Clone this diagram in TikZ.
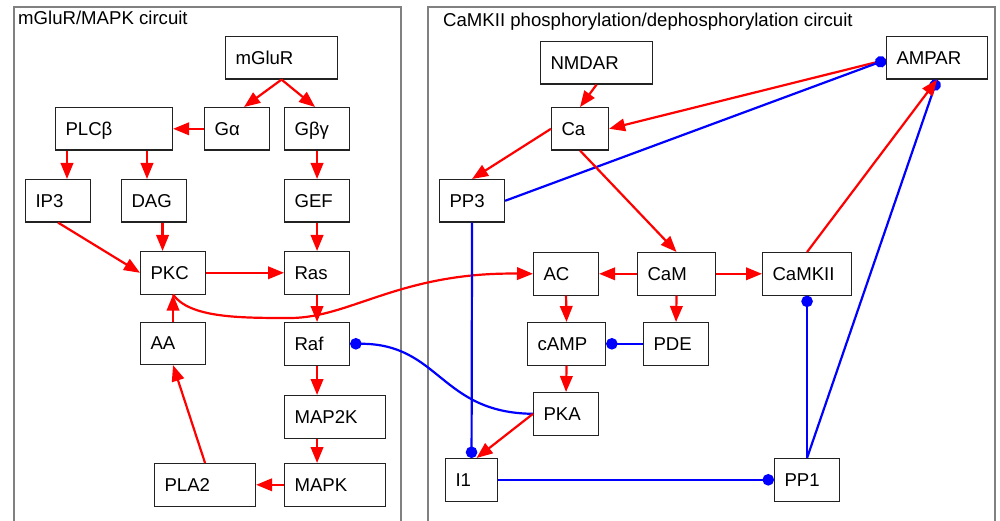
\documentclass[tikz,border=0pt]{standalone}
\usepackage{fontspec}
\setmainfont{Liberation Sans}
\usetikzlibrary{arrows.meta,calc}
\definecolor{framec}{HTML}{808080}
\definecolor{boxc}{HTML}{222222}
\newcommand\nodefont{\fontsize{18.6}{22}\selectfont}
\begin{document}
\begin{tikzpicture}[x=1pt,y=-1pt,
  box/.style={draw=boxc, line width=1.1pt, fill=white, anchor=north west,
    minimum height=42.5pt, inner xsep=10pt, inner ysep=0pt,
    text height=13.3pt, text depth=0pt, align=left, text width=#1, font=\nodefont},
  title/.style={anchor=base west, inner sep=0pt, font=\nodefont},
  framer/.style={draw=framec, line width=1.2pt},
  ra/.style={draw=red, line width=2.2pt, -{Triangle[length=16pt,width=12.5pt]}},
  bi/.style={draw=blue, line width=2.2pt, -{Circle[length=11.5pt]}}]
\useasboundingbox (0,0) rectangle (1000,521);
% panels
\draw[framer] (14,530) -- (14,7) -- (401,7) -- (401,530);
\draw[framer] (428,530) -- (428,7) -- (995,7) -- (995,530);
\node[title] (t1) at (18,25) {mGluR/MAPK circuit};
\node[title] (t2) at (443,27) {CaMKII phosphorylation/dephosphorylation circuit};
% left nodes
\node[box=92pt] (mGluR) at (225,36) {mGluR};
\node[box=45pt] (Ga) at (204,107) {Gα};
\node[box=45pt] (Gbg) at (284,107) {Gβγ};
\node[box=97pt] (PLCb) at (55,107) {PLCβ};
\node[box=45pt] (IP3) at (25,179) {IP3};
\node[box=45pt] (DAG) at (121,179) {DAG};
\node[box=45pt] (GEF) at (284,179) {GEF};
\node[box=45pt] (PKC) at (140,251) {PKC};
\node[box=45pt] (Ras) at (284,251) {Ras};
\node[box=45pt] (AA) at (140,321.5) {AA};
\node[box=45pt] (Raf) at (284,322) {Raf};
\node[box=81pt] (MAP2K) at (284,395) {MAP2K};
\node[box=81pt] (PLA2) at (154,463) {PLA2};
\node[box=81pt] (MAPK) at (284,463) {MAPK};
% right nodes
\node[box=92pt] (NMDAR) at (540,41) {NMDAR};
\node[box=37pt] (Ca) at (551,107) {Ca};
\node[box=45pt] (PP3) at (439,179) {PP3};
\node[box=81pt] (AMPAR) at (886,36) {AMPAR};
\node[box=45pt] (AC) at (533,252) {AC};
\node[box=58pt] (CaM) at (637,252) {CaM};
\node[box=69pt] (CaMKII) at (762,252) {CaMKII};
\node[box=58pt] (cAMP) at (527,322) {cAMP};
\node[box=45pt] (PDE) at (643,322) {PDE};
\node[box=45pt] (PKA) at (533,392) {PKA};
\node[box=32pt] (I1) at (445,458) {I1};
\node[box=45pt] (PP1) at (774,458) {PP1};
% left connectors
\draw[ra] (mGluR.south) -- ([xshift=7pt]Ga.north);
\draw[ra] (mGluR.south) -- ([xshift=-2pt]Gbg.north);
\draw[ra] (Ga.west) -- (PLCb.east);
\draw[ra] ($(PLCb.south west)+(12,0)$) -- ($(PLCb.south west |- IP3.north)+(12,0)$);
\draw[ra] ($(PLCb.south west)+(92,0)$) -- ($(PLCb.south west |- DAG.north)+(92,0)$);
\draw[ra] (Gbg.south) -- (GEF.north);
\draw[ra] ($(DAG.south)+(8.5,0)$) -- ($(DAG.south |- PKC.north)+(8.5,0)$);
\draw[ra] (GEF.south) -- (Ras.north);
\draw[ra] (IP3.south) -- (PKC.west);
\draw[ra] (PKC.east) -- (Ras.west);
\draw[ra] (Ras.south) -- (Raf.north);
\draw[ra] (AA.north) -- (PKC.south);
\draw[ra] (Raf.south) -- (Raf.south |- MAP2K.north);
\draw[ra] (Raf.south |- MAP2K.south) -- (Raf.south |- MAPK.north);
\draw[ra] (MAPK.west) -- (PLA2.east);
\draw[ra] (PLA2.north) -- (AA.south);
\draw[ra] (PKC.south) .. controls (190,318) and (240,318) .. (290,318)
  .. controls (350,318) and (400,272) .. (AC.west);
% right connectors
\draw[ra] (NMDAR.south) -- (Ca.north);
\draw[ra] ([yshift=-2pt]AMPAR.west) -- (Ca.east);
\draw[bi] (PP3.east) -- ([yshift=-2pt]AMPAR.west);
\draw[ra] (Ca.west) -- (PP3.north);
\draw[ra] (Ca.south) -- (CaM.north);
\draw[ra] (CaM.west) -- (AC.east);
\draw[ra] (CaM.east) -- (CaMKII.west);
\draw[ra] (CaM.south) -- (PDE.north);
\draw[ra] (AC.south) -- (cAMP.north);
\draw[bi] (PDE.west) -- (cAMP.east);
\draw[ra] (cAMP.south) -- (PKA.north);
\draw[bi] (PKA.west) .. controls (440,413) and (440,343.5) .. (Raf.east);
\draw[ra] (PKA.west) -- ([xshift=5pt]I1.north);
\draw[bi] (PP3.south) -- (I1.north);
\draw[bi] (I1.east) -- (PP1.west);
\draw[bi] (PP1.north) -- (CaMKII.south);
\draw[bi] (PP1.north) -- (AMPAR.south);
\draw[ra] (CaMKII.north) -- (AMPAR.south);
\end{tikzpicture}
\end{document}
